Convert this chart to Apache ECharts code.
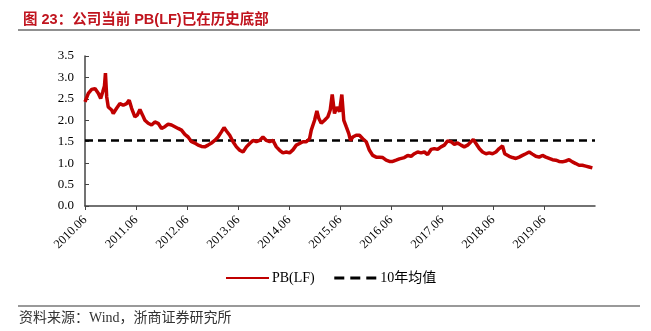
<!DOCTYPE html>
<html>
<head>
<meta charset="utf-8">
<script src="https://cdn.jsdelivr.net/npm/echarts@6/dist/echarts.min.js"></script>
<style>html,body{margin:0;padding:0;background:#fff}#c{width:651px;height:331px}</style>
</head>
<body>
<div id="c"></div>
<script>
// Months elapsed since 2010.06
var months = [0,0.78,1.57,2.35,3.12,3.69,4.16,4.58,4.81,5.10,5.47,6.27,6.65,7.44,8.22,9.0,9.79,10.40,10.97,11.74,12.28,12.92,13.55,14.09,14.87,15.66,16.44,17.21,18.01,18.79,19.56,20.36,21.14,21.91,22.71,23.49,24.26,25.06,25.83,26.61,27.41,28.18,28.96,29.76,30.53,31.31,32.10,32.72,33.28,34.05,34.83,35.63,36.40,37.18,37.98,38.75,39.53,40.32,41.10,41.87,42.67,43.45,44.22,45.02,45.80,46.57,47.37,48.14,48.92,49.72,50.49,51.27,52.07,52.84,53.24,54.02,54.56,55.03,55.59,56.37,57.14,57.70,58.17,58.71,59.25,59.89,60.43,60.90,61.46,62.07,62.47,63.01,63.81,64.58,65.36,66.16,66.93,67.71,68.51,69.28,70.06,70.86,71.63,72.41,73.20,73.98,75.15,75.93,76.73,77.50,78.28,79.08,79.85,80.62,81.42,82.20,82.97,83.77,84.55,85.32,86.12,86.90,87.67,88.47,89.24,90.02,90.82,91.36,91.99,92.77,93.54,94.34,95.12,95.89,96.69,97.46,98.24,98.76,99.04,99.81,100.59,101.39,102.16,102.94,103.73,104.51,105.28,106.08,106.86,107.63,108.43,109.21,109.98,110.78,111.55,112.33,113.13,113.90,114.68,115.48,116.25,117.03,117.82,118.60,119.38];
var pb = [2.43,2.63,2.72,2.74,2.63,2.51,2.66,2.80,3.10,2.55,2.31,2.24,2.16,2.28,2.39,2.35,2.39,2.47,2.28,2.08,2.12,2.25,2.12,2.00,1.93,1.89,1.96,1.93,1.81,1.85,1.91,1.89,1.85,1.81,1.77,1.67,1.61,1.50,1.47,1.42,1.39,1.38,1.42,1.47,1.53,1.61,1.73,1.83,1.75,1.65,1.50,1.38,1.30,1.26,1.38,1.46,1.53,1.50,1.53,1.61,1.53,1.50,1.53,1.38,1.30,1.24,1.26,1.24,1.31,1.42,1.46,1.50,1.50,1.57,1.77,2.00,2.22,2.04,1.93,2.00,2.08,2.24,2.60,2.16,2.31,2.20,2.60,2.00,1.85,1.69,1.53,1.61,1.65,1.65,1.57,1.50,1.30,1.18,1.14,1.14,1.13,1.07,1.04,1.04,1.07,1.10,1.13,1.18,1.16,1.22,1.26,1.24,1.26,1.20,1.32,1.34,1.32,1.38,1.42,1.52,1.50,1.44,1.47,1.42,1.38,1.42,1.50,1.55,1.46,1.34,1.26,1.22,1.24,1.22,1.26,1.34,1.40,1.22,1.18,1.16,1.13,1.11,1.14,1.18,1.22,1.26,1.21,1.16,1.14,1.18,1.14,1.11,1.08,1.07,1.04,1.03,1.05,1.08,1.03,0.99,0.95,0.95,0.93,0.91,0.89];
var meanValue = 1.53;
var tickMonths = [0,12,24,36,48,60,72,84,96,108];
var tickLabels = ['2010.06','2011.06','2012.06','2013.06','2014.06','2015.06','2016.06','2017.06','2018.06','2019.06'];
var axisMaxMonth = 120;
var seriesNames = ['PB(LF)','10年均值'];

var serif = '"Liberation Serif","Noto Sans CJK SC",serif';
var chart = echarts.init(document.getElementById('c'), null, {renderer:'canvas'});
var pbData = months.map(function(m,i){return [m, pb[i]];});
var meanData = [[0, meanValue],[axisMaxMonth, meanValue]];
chart.setOption({
  animation:false,
  title:{text:'图 23：公司当前 PB(LF)已在历史底部', left:18, top:8,
    textStyle:{color:'#c0141e', fontSize:14.5, fontWeight:'bold', fontFamily:'"Liberation Sans","Noto Sans CJK SC",sans-serif'}},
  graphic:[
    {type:'line', shape:{x1:18,y1:30,x2:640,y2:30}, style:{stroke:'#222', lineWidth:1.2}},
    {type:'line', shape:{x1:18,y1:306,x2:640,y2:306}, style:{stroke:'#999', lineWidth:2}},
    {type:'text', left:19, top:311, style:{text:'资料来源：Wind，浙商证券研究所', fill:'#333', font:'14px "Liberation Serif","Noto Sans CJK SC",serif'}}
  ],
  grid:{left:85, top:56, right:56, bottom:125, containLabel:false},
  legend:{top:266, left:220, itemWidth:43, itemHeight:10, itemGap:18,
    itemStyle:{opacity:0},
    textStyle:{fontFamily:serif, fontSize:14, color:'#000', padding:[0,0,0,-2]},
    data:[{name:seriesNames[0]}, {name:seriesNames[1], lineStyle:{type:[10,6], width:3}}]},
  xAxis:{type:'value', min:0, max:axisMaxMonth,
    axisLine:{lineStyle:{color:'#444', width:1.5}},
    axisTick:{show:true, length:4, lineStyle:{color:'#444'}, customValues:tickMonths},
    axisLabel:{rotate:45, fontFamily:serif, fontSize:12.5, color:'#000', margin:12,
      customValues:tickMonths,
      formatter:function(v){var i=tickMonths.indexOf(v);return i>=0?tickLabels[i]:'';}},
    splitLine:{show:false}},
  yAxis:{type:'value', min:0, max:3.5, interval:0.5,
    axisLine:{show:true, lineStyle:{color:'#444', width:1.5}},
    axisTick:{show:true, inside:true, length:4, lineStyle:{color:'#444'}},
    axisLabel:{fontFamily:serif, fontSize:13, color:'#000', margin:11, formatter:function(v){return v.toFixed(1);}},
    splitLine:{show:false}},
  series:[
    {name:seriesNames[0], type:'line', data:pbData, symbol:'none', lineStyle:{color:'#c00000', width:3.5}, itemStyle:{color:'#c00000'}, z:3},
    {name:seriesNames[1], type:'line', data:meanData, symbol:'none', lineStyle:{color:'#000', width:2.5, type:[8,5]}, itemStyle:{color:'#000'}, z:2}
  ]
});
</script>
</body>
</html>
